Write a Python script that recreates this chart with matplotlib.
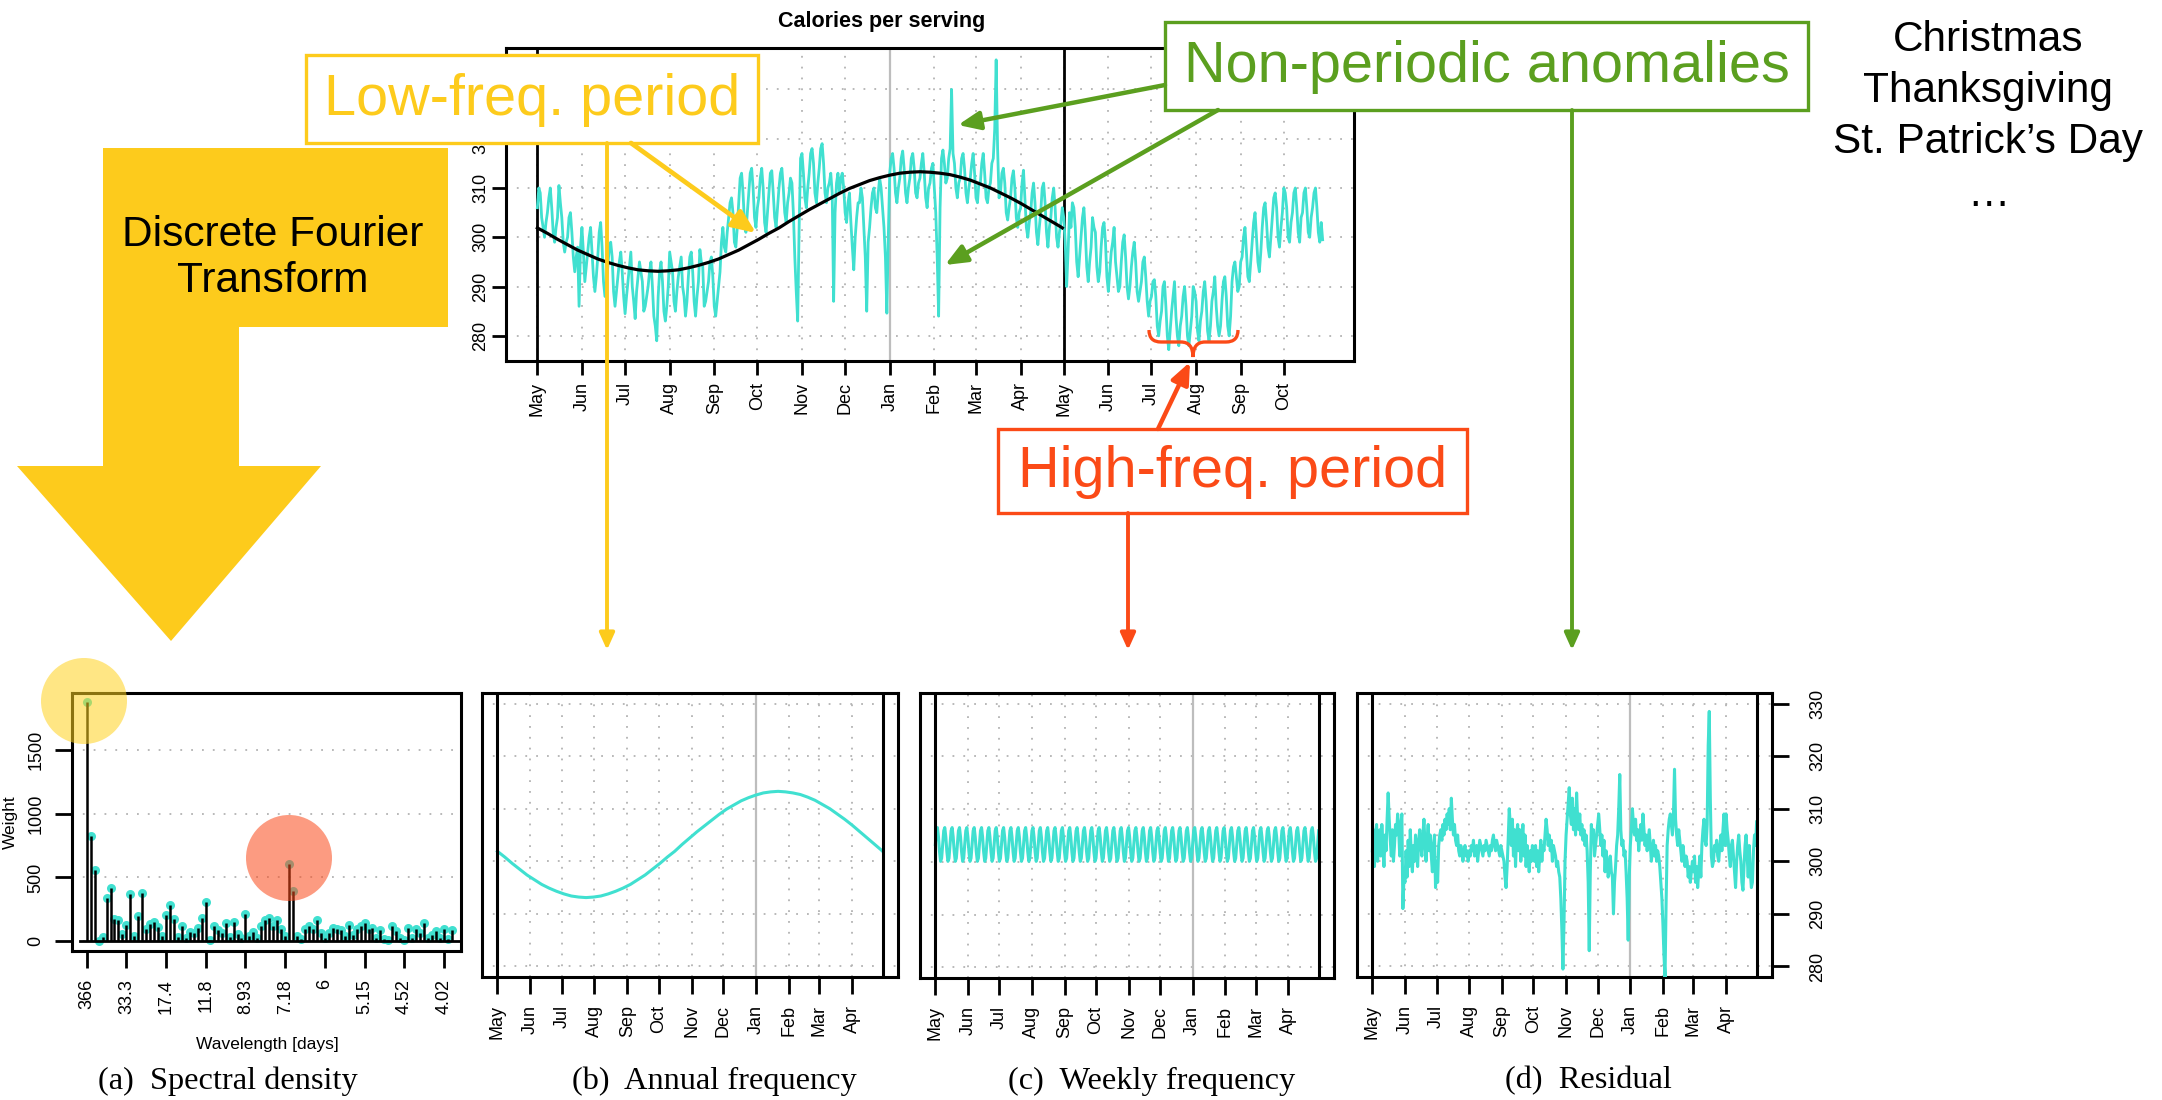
import numpy as np
import pandas as pd
import matplotlib
matplotlib.use("Agg")
import matplotlib.pyplot as plt
from matplotlib.patches import Rectangle, Circle, Polygon, FancyArrowPatch, PathPatch
from matplotlib.path import Path

# ---------------- data ----------------
start_date = "2011-05-01"

# daily calories per serving, May 2011 - Oct 2012 (one row per week)
calories_txt = """
306 310 309 304 302 300 303
305 308 310 306 301 299 302
304 310.5 307 304 299 297 299
300 304 305 301 296 293 296
298 286 298 302 297 291 294
297 300 302 297 292 289 292
296 301 303 298 291 288 291
294 298 299 296 289 286 289
292 295 297 293 288 284.5 288
291 294 297 290 287 283.5 289
292 295 293 291 285 286 288
290 293 295 290 284 282 279
288 293 295 291 285 283 286
290 297 295 293 287 285 289
292 294 296 290 288 284 287
292 296 297 293 287 284 288
291 297.5 295 294 286 287 289
291 295 296 292 286 284 287
290 293 299 302 298 297 301
304 307 308 305 299 298 302
307 312 313 309 303 301 305
309 313 314 310 304 302 306
308 312 314 310 303 301 305
309 313 313.5 309 304 302 306
310 313 314 310 305 303 307
309 312 311 305 296 289 283
302 316 317 313 308 306 310
313 317 318 315 309 307 311
314 318 319 315 309 307 310
311 313 309 287 305 311 313
309 312 313 310 305 303 307
309 303 298 293.4 300 304 307
307 310 308 302 296 285 299
302 306 309 310 306 305 309
312 310 306 302 296 284.6 300
313 316 317 314 309 307 310
312 316 317.5 314 309 307 310
312 316 317 314 309 308 311
312 315 317 313 308 306 310
311 314 315 310 305 296 284
306 316 317.7 315 311 312 316
318 330 317 315 310 308 311
312 316 317 314 309 307 310
312 315 317 313 308 307 311
311 315 317 313 308 307 310
311 315 316 322 336 318 308
309 313 314 311 305 303.5 306
308 312 313.5 310 304 302 305
306 311 313.6 308 302 300 303
305 309 311 307 301 298.5 302
305 310 311 307 301 298 302
304 308 310 306 300 298 301
303 306 304 299 290 297 305
302 307 306 302 295 292 296
300 304 306 301 294 291 295
298 304 302 301 294 291 293
298 302 303 299 292 289 293
297 299 302 295 292 289 290
295 299 300.5 296 290 287.5 290
294 297 299 295 289 287 289
291 295 296 292 287 284 287
288 291 291.4 288 282 280 283
285 290 291 286 280 277.2 281
285 288 291 284 280 278 282
284 288 290 286 280 278 281
284 290 289 287 281 279 283
285 289 291 287 281 279 282
287 289 292 286 282 280 282
287 291 292 288 282 280 284
291 294 295 292 289 290 295
296 300 302 297 292 291 295
299 303 305 300 295 293 297
302 306 307 303 298 296 300
304 308 309 306 300 298 302
305 310 309 306 300 299 303
305 309 310 306 301 299 304
305 309 310 306 301 300 304
306 309 310 306 301 299 303
299.5
"""
calories = np.array(calories_txt.split(), dtype=float)

# annual component, read weekly from May 1 (last value = Apr 30)
annual_days = list(range(0, 365, 7)) + [365]
annual = [301.9, 300.8, 299.6, 298.5, 297.4, 296.5, 295.6, 294.9, 294.3, 293.8,
          293.4, 293.2, 293.1, 293.2, 293.4, 293.8, 294.3, 294.9, 295.6, 296.5,
          297.4, 298.5, 299.6, 300.8, 301.9, 303.2, 304.4, 305.6, 306.7, 307.8,
          308.9, 309.9, 310.7, 311.5, 312.1, 312.6, 313.0, 313.2, 313.3, 313.2,
          313.0, 312.7, 312.2, 311.6, 310.8, 310.0, 309.0, 308.0, 306.9, 305.7,
          304.5, 303.3, 302.1, 301.9]

# weekly component: the 7-day pattern repeats through the year
weekly_cycle = [303.3, 305.9, 306.5, 304.7, 301.9, 300.1, 300.7]

# residual, May 2011 - Apr 2012 (one row per month)
residual_txt = """
302 306 299 305 307 300 304 306 301 307 303 299 305 302 308 313 308 304 301 306 300 303 307 305 309 306 301 307 309 291 297
296 302 297 304 299 306 301 298 303 300 305 302 299 304 306 303 301 305 308 303 300 304 307 302 305 301 298 303 305 295
300 296 303 305 306 304 307 305 308 306 309 307 310 306 312 308 305 307 304 303 305 302 301 303 302 300 302 303 301 302 300
302 301 303 302 304 301 302 303 300 302 304 303 302 301 303 302 304 303 302 301 303 302 304 305 303 302 304 303 302 301 303
302 301 300 297 295 299 304 310 307 303 308 301 306 299 305 307 302 306 300 304 307 301 305 299 303 301 298 302 300 303
301 300 303 299 302 298 301 304 300 303 302 305 308 306 303 305 302 304 300 303 302 301 299 300 298 297 293 287 279.5 288 300
305 308 311 314 309 307 312 306 310 305 313 308 306 309 305 307 304 306 303 305 302 296 283 298 307 304 306 301 303 305
307 309 306 303 305 301 304 298 302 300 297 299 301 298 297 290 296 299 303 305 310 316.5 306 303 304 301 302 298 293 285 297
303 306 310 307 305 308 304 306 302 305 307 304 309 306 303 305 302 304 306 303 300 302 304 301 303 300 302 301 299 296 293
288 282 278 292 303 306 308 309 307 305 309 317.5 308 305 303 306 304 302 300 303 301 299 301 300 297 299 296 298 300
298 301 296 299 295 298 301 297 303 306 308 304 303 307 322 328.5 312 301 299 300 303 302 304 301 300 303 305 302 306 309 303
309 306 304 301 299 303 304 301 298 295 300 303 305 302 300 296 294.5 299 303 305 301 297 303 298 295 296 302 305 303 307.5
"""
residual = np.array(residual_txt.split(), dtype=float)
weekly = np.tile(weekly_cycle, 53)[:len(residual)]

# spectral density weights, frequency index 1..93
spectrum = [1870, 828, 562, 5, 36, 339, 417, 177, 167, 55,
            125, 370, 42, 198, 380, 94, 133, 151, 115, 42,
            208, 286, 172, 36, 120, 26, 73, 68, 107, 182,
            312, 10, 120, 89, 68, 141, 36, 151, 55, 29,
            211, 42, 73, 29, 120, 167, 182, 120, 167, 94,
            42, 609, 396, 42, 16, 99, 120, 94, 167, 68,
            29, 62, 107, 99, 89, 42, 125, 47, 94, 120,
            146, 99, 107, 29, 89, 16, 10, 120, 81, 29,
            10, 107, 29, 99, 68, 146, 29, 47, 81, 29,
            94, 16, 89]
spec_ticks = [1, 11, 21, 31, 41, 51, 61, 71, 81, 91]
spec_tick_labels = ["366", "33.3", "17.4", "11.8", "8.93", "7.18", "6", "5.15", "4.52", "4.02"]

holidays = ["Christmas", "Thanksgiving", "St. Patrick\u2019s Day", "\u2026"]
captions = ["(a)  Spectral density", "(b)  Annual frequency",
            "(c)  Weekly frequency", "(d)  Residual"]

# ---------------- figure ----------------
W, H = 2162, 1100
plt.rcParams["font.family"] = ["Liberation Sans", "DejaVu Sans"]
fig = plt.figure(figsize=(W / 100, H / 100), dpi=100)

TURQ = "#40E0D0"
YEL = "#FDCB1C"
GREEN = "#5B9F1F"
RED = "#FB4A17"
GRID = dict(color="#b3b3b3", linestyle=(0, (1, 5)), linewidth=1.3)
TICK_FS = 13


def px_rect(l, t, r, b):
    return [l / W, 1 - b / H, (r - l) / W, (b - t) / H]


def frame(ax):
    for s in ax.spines.values():
        s.set_linewidth(2.2)
    ax.set_axisbelow(True)


dates_top = pd.date_range(start_date, periods=len(calories), freq="D")
dates_year = pd.date_range(start_date, periods=len(residual), freq="D")
annual_dates = pd.Timestamp(start_date) + pd.to_timedelta(annual_days, unit="D")
jan_first = pd.Timestamp("2012-01-01")

# ---- top: raw series ----
ax0 = fig.add_axes(px_rect(506, 48, 1354, 361))
ax0.plot(dates_top, calories, color=TURQ, lw=2.0, zorder=3)
ax0.plot(annual_dates, annual, color="black", lw=2.3, zorder=4)
ax0.axvline(pd.Timestamp(start_date), color="black", lw=2, zorder=2)
ax0.axvline(pd.Timestamp("2012-05-01"), color="black", lw=2, zorder=2)
ax0.axvline(jan_first, color="#bdbdbd", lw=1.6, zorder=1)
top_ticks = pd.date_range(start_date, "2012-10-01", freq="MS")
ax0.set_xticks(top_ticks)
ax0.set_xticklabels([d.strftime("%b") for d in top_ticks], rotation=90)
pad = pd.Timedelta(days=21.8)
ax0.set_xlim(dates_top[0] - pad, dates_top[-1] + pad)
ax0.set_ylim(274.9, 338.4)
ax0.set_yticks(range(280, 331, 10))
# the 330 label sits fully under the "Low-freq. period" box
ax0.set_yticklabels(["280", "290", "300", "310", "320", ""], rotation=90, va="center")
ax0.grid(True, **GRID)
ax0.tick_params(direction="out", length=10, width=2, labelsize=TICK_FS)
ax0.tick_params(axis="y", pad=2)
ax0.tick_params(axis="x", pad=5)
frame(ax0)
fig.text(882 / W, 1 - 21 / H, "Calories per serving", ha="center", va="center",
         fontsize=15.5, fontweight="bold")

# ---- (a) spectral density ----
axa = fig.add_axes(px_rect(72, 693, 461, 951))
k = np.arange(1, len(spectrum) + 1)
axa.plot(k, spectrum, "o", color=TURQ, ms=6.5, mec="none", zorder=3)
axa.vlines(k, 0, spectrum, color="black", lw=1.8, zorder=4)
axa.axhline(0, xmin=0.02, color="black", lw=2, zorder=4)
axa.set_xlim(-2.7, 95.3)
axa.set_ylim(-75, 1943)
axa.set_xticks(spec_ticks)
axa.set_xticklabels(spec_tick_labels, rotation=90)
axa.set_yticks([0, 500, 1000, 1500])
axa.set_yticklabels(["0", "500", "1000", "1500"], rotation=90, va="center")
axa.grid(axis="y", **GRID)
axa.tick_params(direction="out", length=12, width=2, labelsize=TICK_FS)
axa.tick_params(axis="y", pad=8)
axa.tick_params(axis="x", pad=8)
frame(axa)
fig.text(10 / W, 1 - 822 / H, "Weight", rotation=90, ha="center", va="center", fontsize=12.5)
fig.text(267 / W, 1 - 1044 / H, "Wavelength [days]", ha="center", va="center", fontsize=12.5)

# ---- (b), (c), (d) one-year panels ----
year_ticks = pd.date_range(start_date, "2012-04-01", freq="MS")
ypad = pd.Timedelta(days=14.6)


def year_panel(rect, x, y):
    ax = fig.add_axes(rect)
    ax.plot(x, y, color=TURQ, lw=2.2, zorder=3)
    ax.axvline(dates_year[0], color="black", lw=2.2, zorder=4)
    ax.axvline(dates_year[-1], color="black", lw=2.2, zorder=4)
    ax.axvline(jan_first, color="#bdbdbd", lw=1.6, zorder=2)
    ax.set_xticks(year_ticks)
    ax.set_xticklabels([d.strftime("%b") for d in year_ticks], rotation=90)
    ax.set_xlim(dates_year[0] - ypad, dates_year[-1] + ypad)
    ax.set_ylim(278, 332)
    ax.set_yticks(range(280, 331, 10))
    ax.grid(True, **GRID)
    ax.tick_params(direction="out", length=12, width=2, labelsize=TICK_FS)
    ax.tick_params(axis="x", pad=8)
    ax.tick_params(axis="y", left=False, labelleft=False)
    frame(ax)
    return ax


axb = year_panel(px_rect(482, 693, 898, 977), annual_dates, annual)
axc = year_panel(px_rect(920, 693, 1334, 978), dates_year, weekly)
axd = year_panel(px_rect(1357, 693, 1772, 977), dates_year, residual)
axd.tick_params(axis="y", right=True, labelright=True, pad=15)
axd.set_yticklabels([str(v) for v in range(280, 331, 10)], rotation=90, va="center")

for cx, txt in zip([228, 714, 1152, 1588], captions):
    fig.text(cx / W, 1 - 1081 / H, txt, ha="center", va="center",
             fontsize=23.3, family="Liberation Serif")

# ---------------- annotation overlay (pixel coordinates) ----------------
ov = fig.add_axes([0, 0, 1, 1])
ov.set_xlim(0, W)
ov.set_ylim(H, 0)
ov.axis("off")
ov.patch.set_visible(False)
ov.set_zorder(10)

# DFT block arrow
ov.add_patch(Polygon([(103, 148), (448, 148), (448, 327), (239, 327), (239, 466),
                      (321, 466), (171, 641), (17, 466), (103, 466)],
                     closed=True, fc=YEL, ec="none"))
ov.text(273, 258, "Discrete Fourier\nTransform", ha="center", va="center",
        fontsize=30.5, linespacing=1.2)

# highlight circles in spectral panel
ov.add_patch(Circle((84, 701), 43, fc="#FFD21F", ec="none", alpha=0.55))
ov.add_patch(Circle((289, 858), 43, fc="#FA4A1A", ec="none", alpha=0.55))


def label_box(x0, y0, x1, y1, text, color):
    ov.add_patch(Rectangle((x0, y0), x1 - x0, y1 - y0, fc="white", ec=color, lw=2.4, zorder=5))
    ov.text((x0 + x1) / 2, (y0 + y1) / 2 + 1, text, color=color, fontsize=41.5,
            ha="center", va="center", zorder=6)


def arrow(p0, p1, color, lw, hl, hw):
    ov.add_patch(FancyArrowPatch(p0, p1, arrowstyle=f"-|>,head_length={hl},head_width={hw}",
                                 mutation_scale=1, color=color, lw=lw,
                                 shrinkA=0, shrinkB=0, zorder=7))


label_box(306, 55, 758, 143, "Low-freq. period", YEL)
label_box(1165, 22, 1808, 110, "Non-periodic anomalies", GREEN)
label_box(998, 429, 1467, 513, "High-freq. period", RED)

arrow((631, 143), (756, 233), YEL, 3.4, 14, 6)
arrow((607, 143), (607, 650), YEL, 2.8, 10, 4.5)
arrow((1165, 85), (958, 125), GREEN, 3.2, 13, 5.5)
arrow((1218, 110), (945, 265), GREEN, 3.2, 13, 5.5)
arrow((1572, 110), (1572, 650), GREEN, 2.8, 10, 4.5)
arrow((1158, 429), (1190, 362), RED, 3.2, 13, 5.5)
arrow((1128, 513), (1128, 650), RED, 2.8, 10, 4.5)

# curly brace under the summer trough
brace = Path([(1149, 330), (1149, 342), (1161, 342), (1181, 342), (1193, 342), (1193, 357),
              (1193, 342), (1205, 342), (1226, 342), (1238, 342), (1238, 330)],
             [Path.MOVETO, Path.CURVE3, Path.CURVE3, Path.LINETO, Path.CURVE3, Path.CURVE3,
              Path.CURVE3, Path.CURVE3, Path.LINETO, Path.CURVE3, Path.CURVE3])
ov.add_patch(PathPatch(brace, fc="none", ec=RED, lw=2.4, zorder=7))

for y, txt in zip([51, 102, 153, 206], holidays):
    ov.text(1988, y, txt, ha="center", va="baseline", fontsize=30.5)

fig.savefig("out.png", dpi=100)
